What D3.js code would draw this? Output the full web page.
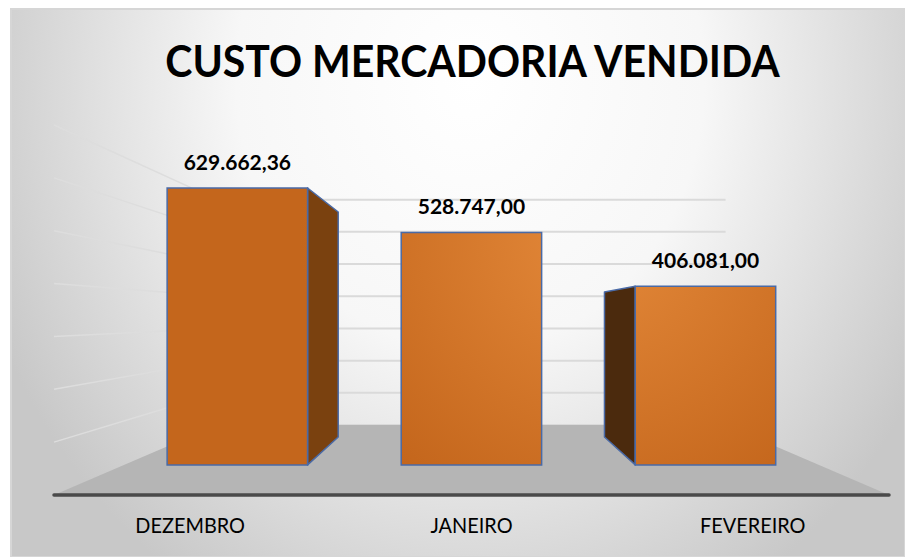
<!DOCTYPE html>
<html>
<head>
<meta charset="utf-8">
<script src="https://cdnjs.cloudflare.com/ajax/libs/d3/7.8.5/d3.min.js"></script>
<style>
  body { margin: 0; background: #fff; }
  svg { display: block; }
</style>
</head>
<body>
<div id="chart"></div>
<script>
/// DATA

const months = ["DEZEMBRO", "JANEIRO", "FEVEREIRO"]
const custo = [629662.36, 528747.0, 406081.0]
const custoLabels = ["629.662,36", "528.747,00", "406.081,00"]
const titulo = "CUSTO MERCADORIA VENDIDA"

const data = months.map((m, i) => ({ mes: m, valor: custo[i], label: custoLabels[i] }))

const width = 905
const height = 557

// front edge of the floor, vanishing point and depths (1 = floor front)
const floor = { left: 54, right: 889, y: 495 }
const vp = { x: 471, y: 316 }
const kBarFront = 0.832
const kBarBack = 0.676
const kWall = 0.609

const project = (X, Y, k) => [vp.x + (X - vp.x) * k, vp.y + (Y - vp.y) * k]

// Lato is a bit wider than the Calibri of the original, squeeze it a little
const narrow = function (factor) {
  return function () {
    const w = this.getComputedTextLength()
    d3.select(this).attr("textLength", w * factor).attr("lengthAdjust", "spacingAndGlyphs")
  }
}

/// SCALES

const xScale = d3
  .scaleBand()
  .domain(months)
  .range([floor.left, floor.right])
  .paddingInner(0.4)
  .paddingOuter(0.184)

const yScale = d3.scaleLinear().domain([0, 700000]).range([floor.y, 125])

const svg = d3
  .select("#chart")
  .append("svg")
  .attr("width", width)
  .attr("height", height)
  .attr("viewBox", [0, 0, width, height])

const defs = svg.append("defs")

const bg = defs
  .append("radialGradient")
  .attr("id", "bg")
  .attr("gradientUnits", "userSpaceOnUse")
  .attr("cx", 0)
  .attr("cy", 0)
  .attr("r", 1)
  .attr("gradientTransform", "translate(470,80) scale(520,600)")
bg.selectAll("stop")
  .data([
    [0, "#ffffff"],
    [0.45, "#f7f7f7"],
    [0.65, "#e6e6e6"],
    [0.8, "#d9d9d9"],
    [1, "#c8c8c8"],
  ])
  .join("stop")
  .attr("offset", (d) => d[0])
  .attr("stop-color", (d) => d[1])

const barGrad = defs
  .append("radialGradient")
  .attr("id", "barGrad")
  .attr("gradientUnits", "userSpaceOnUse")
  .attr("cx", 600)
  .attr("cy", 235)
  .attr("r", 300)
barGrad
  .selectAll("stop")
  .data([
    [0, "#e4893a"],
    [1, "#c4661c"],
  ])
  .join("stop")
  .attr("offset", (d) => d[0])
  .attr("stop-color", (d) => d[1])

// chart area
svg
  .append("rect")
  .attr("x", 11)
  .attr("y", 9)
  .attr("width", width - 11)
  .attr("height", height - 9)
  .attr("fill", "url(#bg)")
  .attr("stroke", "#d6d6d6")
  .attr("stroke-width", 2)

/// WALLS (gridlines only)

const ticks = yScale.ticks(7)
const line = d3.line()

svg
  .append("g")
  .attr("class", "left-wall")
  .selectAll("path")
  .data(ticks.filter((t) => t > 0))
  .join("path")
  .attr("d", (t) => line([project(floor.left, yScale(t), 1), project(floor.left, yScale(t), kWall)]))
  .attr("stroke", "#dddddd")
  .attr("stroke-width", 1.5)
  .attr("fill", "none")

svg
  .append("g")
  .attr("class", "back-wall")
  .selectAll("path")
  .data(ticks)
  .join("path")
  .attr("d", (t) => line([project(floor.left, yScale(t), kWall), project(floor.right, yScale(t), kWall)]))
  .attr("stroke", "#dadada")
  .attr("stroke-width", 2)
  .attr("fill", "none")

/// FLOOR

const y0 = yScale(0)
svg
  .append("path")
  .attr("d", line([
    project(floor.left, y0, 1),
    project(floor.right, y0, 1),
    project(floor.right, y0, kWall),
    project(floor.left, y0, kWall),
  ]) + "Z")
  .attr("fill", "#b5b5b5")

svg
  .append("path")
  .attr("d", line([project(floor.left, y0, 1), project(floor.right, y0, 1)]))
  .attr("stroke", "#4a4a4a")
  .attr("stroke-width", 3.5)
  .attr("stroke-linecap", "round")

/// BARS

const bars = svg.append("g").attr("class", "bars").selectAll("g").data(data).join("g")

const quad = (pts) => line(pts) + "Z"

bars
  .append("path")
  .attr("class", "side")
  .attr("d", (d) => {
    const x0 = xScale(d.mes)
    const x1 = x0 + xScale.bandwidth()
    const yt = yScale(d.valor)
    if (x1 < vp.x) {
      return quad([
        project(x1, y0, kBarFront),
        project(x1, yt, kBarFront),
        project(x1, yt, kBarBack),
        project(x1, y0, kBarBack),
      ])
    } else if (x0 > vp.x) {
      return quad([
        project(x0, y0, kBarFront),
        project(x0, yt, kBarFront),
        project(x0, yt, kBarBack),
        project(x0, y0, kBarBack),
      ])
    }
    return null
  })
  .attr("fill", (d) => (xScale(d.mes) + xScale.bandwidth() < vp.x ? "#7a410f" : "#4b2a0d"))
  .attr("stroke", "#4a6aa6")
  .attr("stroke-width", 1.5)
  .attr("stroke-linejoin", "round")

bars
  .append("path")
  .attr("class", "front")
  .attr("d", (d) => {
    const x0 = xScale(d.mes)
    const x1 = x0 + xScale.bandwidth()
    const yt = yScale(d.valor)
    return quad([
      project(x0, y0, kBarFront),
      project(x0, yt, kBarFront),
      project(x1, yt, kBarFront),
      project(x1, y0, kBarFront),
    ])
  })
  .attr("fill", "url(#barGrad)")
  .attr("stroke", "#4a6aa6")
  .attr("stroke-width", 1.5)

/// LABELS

bars
  .append("text")
  .attr("x", (d) => project(xScale(d.mes) + xScale.bandwidth() / 2, 0, kBarFront)[0])
  .attr("y", (d) => project(0, yScale(d.valor), kBarFront)[1] - 18)
  .attr("text-anchor", "middle")
  .style("font-family", "Lato, 'Open Sans', sans-serif")
  .style("font-weight", "700")
  .style("font-size", "21px")
  .style("fill", "#000")
  .text((d) => d.label)

svg
  .append("g")
  .attr("class", "x-labels")
  .selectAll("text")
  .data(months)
  .join("text")
  .attr("x", (d) => xScale(d) + xScale.bandwidth() / 2)
  .attr("y", 533)
  .attr("text-anchor", "middle")
  .style("font-family", "Lato, 'Open Sans', sans-serif")
  .style("font-size", "21.5px")
  .style("fill", "#000")
  .text((d) => d)
  .each(narrow(0.925))

svg
  .append("text")
  .attr("class", "title")
  .attr("x", 472.5)
  .attr("y", 77)
  .attr("text-anchor", "middle")
  .style("font-family", "Lato, 'Open Sans', sans-serif")
  .style("font-weight", "700")
  .style("font-size", "43px")
  .style("fill", "#000")
  .text(titulo)
  .each(narrow(0.953))
</script>
</body>
</html>
